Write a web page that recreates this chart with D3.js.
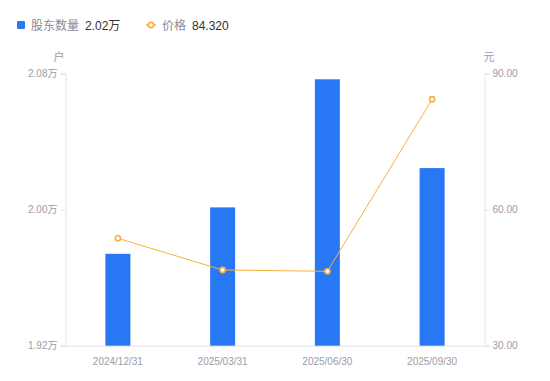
<!DOCTYPE html>
<html><head><meta charset="utf-8">
<script src="https://cdn.jsdelivr.net/npm/d3@7"></script>
<style>body{margin:0;background:#fff;font-family:"Liberation Sans","Noto Sans CJK SC",sans-serif;}</style>
</head><body>
<svg id="c" width="550" height="381"></svg>
<script>
const categories = ["2024/12/31","2025/03/31","2025/06/30","2025/09/30"];
const holders = [1.974, 2.0013, 2.0766, 2.0244]; // 万户
const prices = [53.67, 46.69, 46.40, 84.32]; // 元
const leftTicks = [1.92, 2.00, 2.08];
const rightTicks = [30, 60, 90];

const svg = d3.select("#c");
const ff = '"Liberation Sans","Noto Sans CJK SC",sans-serif';
const L = 65.5, R = 484.5, T = 73.5, B = 345.7;
const x = d3.scaleBand().domain(categories).range([L, R]);
const yL = d3.scaleLinear().domain([1.92, 2.08]).range([B, T]);
const yR = d3.scaleLinear().domain([30, 90]).range([B, T]);
const blue = "#2878f5", orange = "#f6b03c", axisC = "#e3e3e8", txtC = "#9b9bab";

// axes
const gL = svg.append("g").attr("transform", `translate(${L},0)`)
  .call(d3.axisLeft(yL).tickValues(leftTicks).tickSize(5).tickPadding(3).tickFormat(d => d3.format(".2f")(d) + "万"));
const gR = svg.append("g").attr("transform", `translate(${R},0)`)
  .call(d3.axisRight(yR).tickValues(rightTicks).tickSize(5).tickPadding(3).tickFormat(d3.format(".2f")));
const gX = svg.append("g").attr("transform", `translate(0,${B})`)
  .call(d3.axisBottom(x).tickSize(0).tickPadding(12));
[gL, gR, gX].forEach(g => {
  g.selectAll(".domain").attr("stroke", axisC);
  g.selectAll(".tick line").attr("stroke", axisC);
  g.selectAll("text").attr("fill", txtC).attr("font-size", 10).attr("font-family", ff);
});
gX.select(".domain").attr("d", `M${L},0.5H${R}`);

svg.append("text").attr("x", 59).attr("y", 61).attr("text-anchor", "middle")
  .attr("fill", txtC).attr("font-size", 11).attr("font-family", ff).text("户");
svg.append("text").attr("x", 489).attr("y", 61).attr("text-anchor", "middle")
  .attr("fill", txtC).attr("font-size", 11).attr("font-family", ff).text("元");

// bars
const bw = 25;
svg.append("g").selectAll("rect").data(holders).join("rect")
  .attr("x", (d, i) => x(categories[i]) + x.bandwidth() / 2 - bw / 2)
  .attr("y", d => yL(d))
  .attr("width", bw)
  .attr("height", d => B - yL(d))
  .attr("fill", blue);

// line
const line = d3.line().x((d, i) => x(categories[i]) + x.bandwidth() / 2).y(d => yR(d));
svg.append("path").datum(prices).attr("d", line).attr("fill", "none")
  .attr("stroke", orange).attr("stroke-width", 1);
svg.append("g").selectAll("circle").data(prices).join("circle")
  .attr("cx", (d, i) => x(categories[i]) + x.bandwidth() / 2)
  .attr("cy", d => yR(d)).attr("r", 2.6)
  .attr("fill", "#fff").attr("stroke", orange).attr("stroke-width", 1.6);

// legend
const lg = svg.append("g").attr("font-family", ff).attr("font-size", 12);
lg.append("rect").attr("x", 17).attr("y", 21).attr("width", 8).attr("height", 8).attr("rx", 1).attr("fill", blue);
lg.append("text").attr("x", 31).attr("y", 29.5).attr("fill", "#8a8a99").text("股东数量");
lg.append("text").attr("x", 85).attr("y", 29.5).attr("fill", "#333").text(d3.format(".2f")(holders[3]) + "万");
lg.append("line").attr("x1", 146).attr("x2", 156).attr("y1", 25).attr("y2", 25).attr("stroke", orange).attr("stroke-width", 1.5);
lg.append("circle").attr("cx", 151).attr("cy", 25).attr("r", 2.6).attr("fill", "#fff").attr("stroke", orange).attr("stroke-width", 1.6);
lg.append("text").attr("x", 162).attr("y", 29.5).attr("fill", "#8a8a99").text("价格");
lg.append("text").attr("x", 192).attr("y", 29.5).attr("fill", "#333").text(d3.format(".3f")(prices[3]));
</script>
</body></html>
